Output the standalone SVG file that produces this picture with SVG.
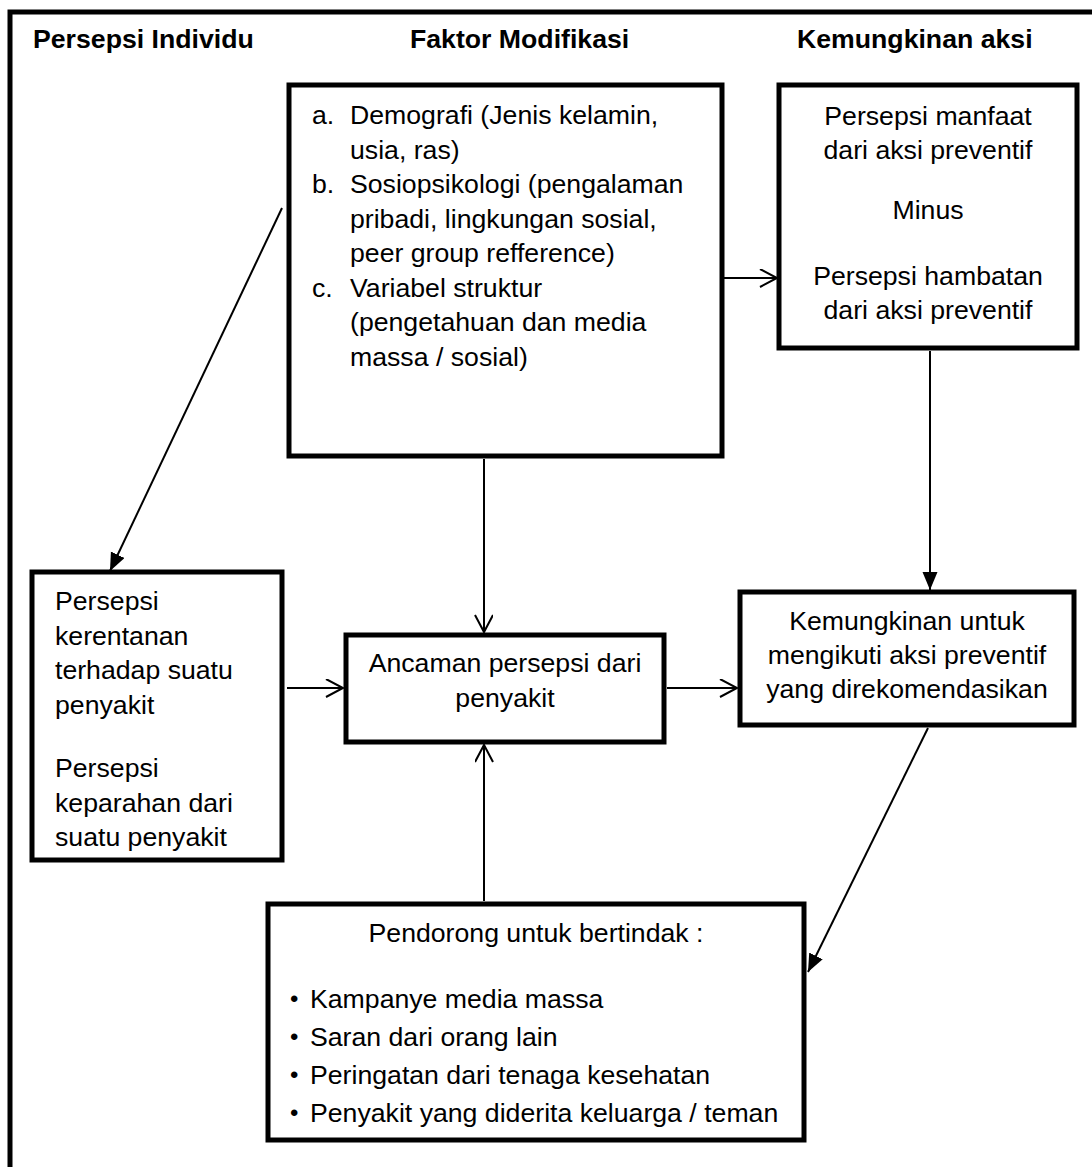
<svg xmlns="http://www.w3.org/2000/svg" width="1092" height="1167" viewBox="0 0 1092 1167">
<style>
.box{fill:#fff;stroke:#000;stroke-width:5}
.t{font-family:"Liberation Sans",Arial,sans-serif;font-size:26.67px;fill:#000}
.b{font-family:"Liberation Sans",Arial,sans-serif;font-size:24px;fill:#000}
.h{font-family:"Liberation Sans",Arial,sans-serif;font-size:26.67px;font-weight:bold;fill:#000}
.c{text-anchor:middle}
.ln{stroke:#000;stroke-width:2;fill:none}
</style>
<defs>
<marker id="open" markerUnits="userSpaceOnUse" markerWidth="22" markerHeight="22" refX="18" refY="9" orient="auto">
<path d="M1,0 L18,9 L1,18" fill="none" stroke="#000" stroke-width="2"/>
</marker>
<marker id="fill" markerUnits="userSpaceOnUse" markerWidth="20" markerHeight="18" refX="18" refY="7.5" orient="auto">
<path d="M0,0 L18,7.5 L0,15 z" fill="#000"/>
</marker>
<clipPath id="clipP"><rect x="34" y="574" width="246" height="277"/></clipPath>
</defs>
<rect width="1092" height="1167" fill="#fff"/>
<rect x="10" y="12" width="1100" height="1200" fill="none" stroke="#000" stroke-width="5"/>
<g id="headers">
<text class="h" x="33" y="48">Persepsi Individu</text>
<text class="h" x="410" y="48">Faktor Modifikasi</text>
<text class="h" x="797" y="48">Kemungkinan aksi</text>
</g>
<g id="connectors">
<line class="ln" x1="282" y1="208" x2="110" y2="571" marker-end="url(#fill)"/>
<line class="ln" x1="724" y1="278" x2="777" y2="278" marker-end="url(#open)"/>
<line class="ln" x1="484" y1="459" x2="484" y2="632" marker-end="url(#open)"/>
<line class="ln" x1="287" y1="688" x2="343" y2="688" marker-end="url(#open)"/>
<line class="ln" x1="667" y1="688" x2="737" y2="688" marker-end="url(#open)"/>
<line class="ln" x1="930" y1="351" x2="930" y2="590" marker-end="url(#fill)"/>
<line class="ln" x1="928" y1="728" x2="808" y2="972" marker-end="url(#fill)"/>
<line class="ln" x1="484" y1="901" x2="484" y2="745" marker-end="url(#open)"/>
</g>
<g id="faktor">
<rect class="box" x="289" y="85" width="433" height="371"/>
<text class="t" x="312" y="124">a.</text>
<text class="t" x="350" y="124">Demografi (Jenis kelamin,</text>
<text class="t" x="350" y="158.5">usia, ras)</text>
<text class="t" x="312" y="193">b.</text>
<text class="t" x="350" y="193">Sosiopsikologi (pengalaman</text>
<text class="t" x="350" y="227.5">pribadi, lingkungan sosial,</text>
<text class="t" x="350" y="262">peer group refference)</text>
<text class="t" x="312" y="296.5">c.</text>
<text class="t" x="350" y="296.5">Variabel struktur</text>
<text class="t" x="350" y="331">(pengetahuan dan media</text>
<text class="t" x="350" y="365.5">massa / sosial)</text>
</g>
<g id="kemungkinan-aksi">
<rect class="box" x="779" y="85" width="298" height="263"/>
<text class="t c" x="928" y="125">Persepsi manfaat</text>
<text class="t c" x="928" y="159">dari aksi preventif</text>
<text class="t c" x="928" y="219">Minus</text>
<text class="t c" x="928" y="285">Persepsi hambatan</text>
<text class="t c" x="928" y="319">dari aksi preventif</text>
</g>
<g id="persepsi">
<rect class="box" x="32" y="572" width="250" height="288"/>
<g clip-path="url(#clipP)">
<text class="t" x="55" y="610">Persepsi</text>
<text class="t" x="55" y="644.5">kerentanan</text>
<text class="t" x="55" y="679">terhadap suatu</text>
<text class="t" x="55" y="713.5">penyakit</text>
<text class="t" x="55" y="777">Persepsi</text>
<text class="t" x="55" y="811.5">keparahan dari</text>
<text class="t" x="55" y="846">suatu penyakit</text>
</g>
</g>
<g id="ancaman">
<rect class="box" x="346" y="635" width="318" height="107"/>
<text class="t c" x="505" y="672">Ancaman persepsi dari</text>
<text class="t c" x="505" y="707">penyakit</text>
</g>
<g id="kemungkinan-untuk">
<rect class="box" x="740" y="592" width="334" height="133"/>
<text class="t c" x="907" y="630">Kemungkinan untuk</text>
<text class="t c" x="907" y="664">mengikuti aksi preventif</text>
<text class="t c" x="907" y="698">yang direkomendasikan</text>
</g>
<g id="pendorong">
<rect class="box" x="268" y="904" width="536" height="236"/>
<text class="t c" x="536" y="942">Pendorong untuk bertindak :</text>
<text class="b" x="290" y="1007">•</text><text class="t" x="310" y="1008">Kampanye media massa</text>
<text class="b" x="290" y="1045">•</text><text class="t" x="310" y="1046">Saran dari orang lain</text>
<text class="b" x="290" y="1083">•</text><text class="t" x="310" y="1084">Peringatan dari tenaga kesehatan</text>
<text class="b" x="290" y="1121">•</text><text class="t" x="310" y="1122">Penyakit yang diderita keluarga / teman</text>
</g>
</svg>
